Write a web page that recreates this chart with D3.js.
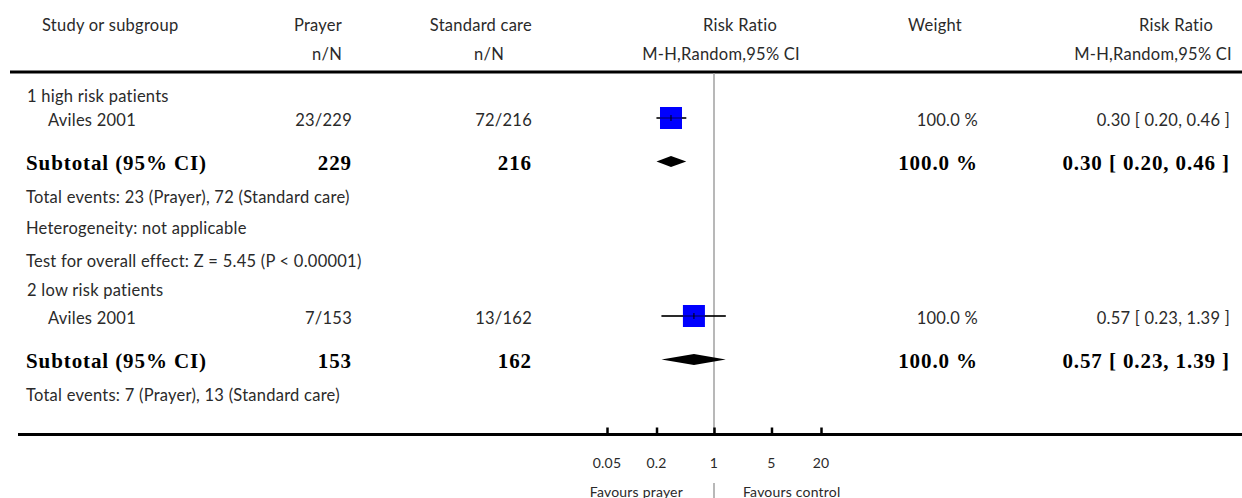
<!DOCTYPE html>
<html>
<head>
<meta charset="utf-8">
<script src="https://cdn.jsdelivr.net/npm/d3@7"></script>
<style>
  html, body { margin: 0; padding: 0; background: #fff; }
  svg { display: block; }
  .t { font-family: Lato, "Open Sans", sans-serif; font-size: 16.5px; letter-spacing: 0.25px; fill: #2a2a2a; }
  .s { font-family: Lato, "Open Sans", sans-serif; font-size: 14px; letter-spacing: 0.2px; fill: #2a2a2a; }
  .b { font-family: "Liberation Serif", "DejaVu Serif", serif; font-weight: bold; font-size: 21px; letter-spacing: 0.9px; fill: #000; }
</style>
</head>
<body>
<script>
// ---------- data ----------
const subgroupLabels = ["1 high risk patients", "2 low risk patients"];
const studyNames = ["Aviles 2001", "Aviles 2001"];
const prayerEvents = [23, 7];
const prayerTotals = [229, 153];
const careEvents = [72, 13];
const careTotals = [216, 162];
const rrEstimate = [0.30, 0.57];
const rrLower = [0.20, 0.23];
const rrUpper = [0.46, 1.39];
const weights = [100.0, 100.0];
const subtotalEstimate = [0.30, 0.57];
const subtotalLower = [0.20, 0.23];
const subtotalUpper = [0.46, 1.39];
const heterogeneityText = ["Heterogeneity: not applicable", null];
const overallEffectText = ["Test for overall effect: Z = 5.45 (P < 0.00001)", null];
const tickValues = [0.05, 0.2, 1, 5, 20];
const tickLabels = ["0.05", "0.2", "1", "5", "20"];

// ---------- layout ----------
const W = 1242, H = 498;
const svg = d3.select("body").append("svg").attr("width", W).attr("height", H);

const x = d3.scaleLog().domain([0.05, 20]).range([607, 821]);
const x1 = x(1);

const colPrayer = 352, colCare = 532, colWeight = 978, colRR = 1230;

function txt(xp, yp, s, cls, anchor) {
  return svg.append("text").attr("class", cls || "t").attr("x", xp).attr("y", yp)
    .attr("text-anchor", anchor || "start").attr("dominant-baseline", "central").text(s);
}

// header
txt(42, 25, "Study or subgroup");
txt(342, 25, "Prayer", "t", "end");
txt(342, 54, "n/N", "t", "end");
txt(532, 25, "Standard care", "t", "end");
txt(504, 54, "n/N", "t", "end");
txt(777, 25, "Risk Ratio", "t", "end");
txt(800, 54, "M-H,Random,95% CI", "t", "end");
txt(962, 25, "Weight", "t", "end");
txt(1213, 25, "Risk Ratio", "t", "end");
txt(1232, 54, "M-H,Random,95% CI", "t", "end");

// top rule
svg.append("line").attr("x1", 10).attr("x2", W).attr("y1", 72).attr("y2", 72)
  .attr("stroke", "#000").attr("stroke-width", 3);

// null line
svg.append("line").attr("x1", x1).attr("x2", x1).attr("y1", 73).attr("y2", 434)
  .attr("stroke", "#a0a0a0").attr("stroke-width", 1.5);

const fmt2 = d3.format(".2f");
const groupTops = [96, 290];

subgroupLabels.forEach((lab, i) => {
  const y0 = groupTops[i];
  const yStudy = y0 + 24 + (i === 1 ? 4 : 0);
  const ySub = yStudy + 43;
  txt(27, y0, lab);
  txt(48, yStudy, studyNames[i]);
  txt(colPrayer, yStudy, prayerEvents[i] + "/" + prayerTotals[i], "t", "end");
  txt(colCare, yStudy, careEvents[i] + "/" + careTotals[i], "t", "end");
  txt(colWeight, yStudy, d3.format(".1f")(weights[i]) + " %", "t", "end");
  txt(colRR, yStudy, fmt2(rrEstimate[i]) + " [ " + fmt2(rrLower[i]) + ", " + fmt2(rrUpper[i]) + " ]", "t", "end");

  // CI line
  svg.append("line").attr("x1", x(rrLower[i])).attr("x2", x(rrUpper[i]))
    .attr("y1", yStudy - 2).attr("y2", yStudy - 2).attr("stroke", "#000").attr("stroke-width", 1.4);
  // square
  const s = 22 * Math.sqrt(weights[i] / 100);
  svg.append("rect").attr("x", x(rrEstimate[i]) - s / 2).attr("y", yStudy - 2 - s / 2)
    .attr("width", s).attr("height", s).attr("fill", "#0000ff");
  svg.append("line").attr("x1", x(rrEstimate[i])).attr("x2", x(rrEstimate[i]))
    .attr("y1", yStudy - 5).attr("y2", yStudy + 1).attr("stroke", "#000").attr("stroke-width", 1);
  svg.append("line").attr("x1", x(rrLower[i])).attr("x2", x(rrUpper[i]))
    .attr("y1", yStudy - 2).attr("y2", yStudy - 2).attr("stroke", "#000").attr("stroke-opacity", 0.45).attr("stroke-width", 1.4);

  // subtotal row
  txt(26, ySub, "Subtotal (95% CI)", "b");
  txt(colPrayer, ySub, String(prayerTotals[i]), "b", "end");
  txt(colCare, ySub, String(careTotals[i]), "b", "end");
  txt(colWeight, ySub, d3.format(".1f")(weights[i]) + " %", "b", "end");
  txt(colRR, ySub, fmt2(subtotalEstimate[i]) + " [ " + fmt2(subtotalLower[i]) + ", " + fmt2(subtotalUpper[i]) + " ]", "b", "end");
  const yd = ySub - 1.5, hh = 5.5;
  svg.append("path")
    .attr("d", `M${x(subtotalLower[i])},${yd} L${x(subtotalEstimate[i])},${yd - hh} L${x(subtotalUpper[i])},${yd} L${x(subtotalEstimate[i])},${yd + hh} Z`)
    .attr("fill", "#000");

  let yy = ySub + 34;
  txt(26, yy, "Total events: " + prayerEvents[i] + " (Prayer), " + careEvents[i] + " (Standard care)");
  if (heterogeneityText[i]) { yy += 31; txt(26, yy, heterogeneityText[i]); }
  if (overallEffectText[i]) { yy += 33; txt(26, yy, overallEffectText[i]); }
});

// bottom axis
const axisY = 434.5;
svg.append("line").attr("x1", 18).attr("x2", W).attr("y1", axisY).attr("y2", axisY)
  .attr("stroke", "#000").attr("stroke-width", 3);
const axis = d3.axisTop(x).tickValues(tickValues).tickFormat("").tickSizeOuter(0).tickSizeInner(7);
const ag = svg.append("g").attr("transform", `translate(0,${axisY})`).call(axis);
ag.select(".domain").remove();
ag.selectAll(".tick line").attr("stroke", "#000").attr("stroke-width", 2.5);
svg.selectAll(".ticklab").data(tickValues).enter().append("text")
  .attr("class", "s").attr("x", d => x(d)).attr("y", 462)
  .attr("text-anchor", "middle").attr("dominant-baseline", "central")
  .text((d, i) => tickLabels[i]);

txt(x1 - 31, 491, "Favours prayer", "s", "end");
txt(x1 + 29, 491, "Favours control", "s", "start");
svg.append("line").attr("x1", x1).attr("x2", x1).attr("y1", 483).attr("y2", H)
  .attr("stroke", "#a0a0a0").attr("stroke-width", 1.5);
</script>
</body>
</html>
